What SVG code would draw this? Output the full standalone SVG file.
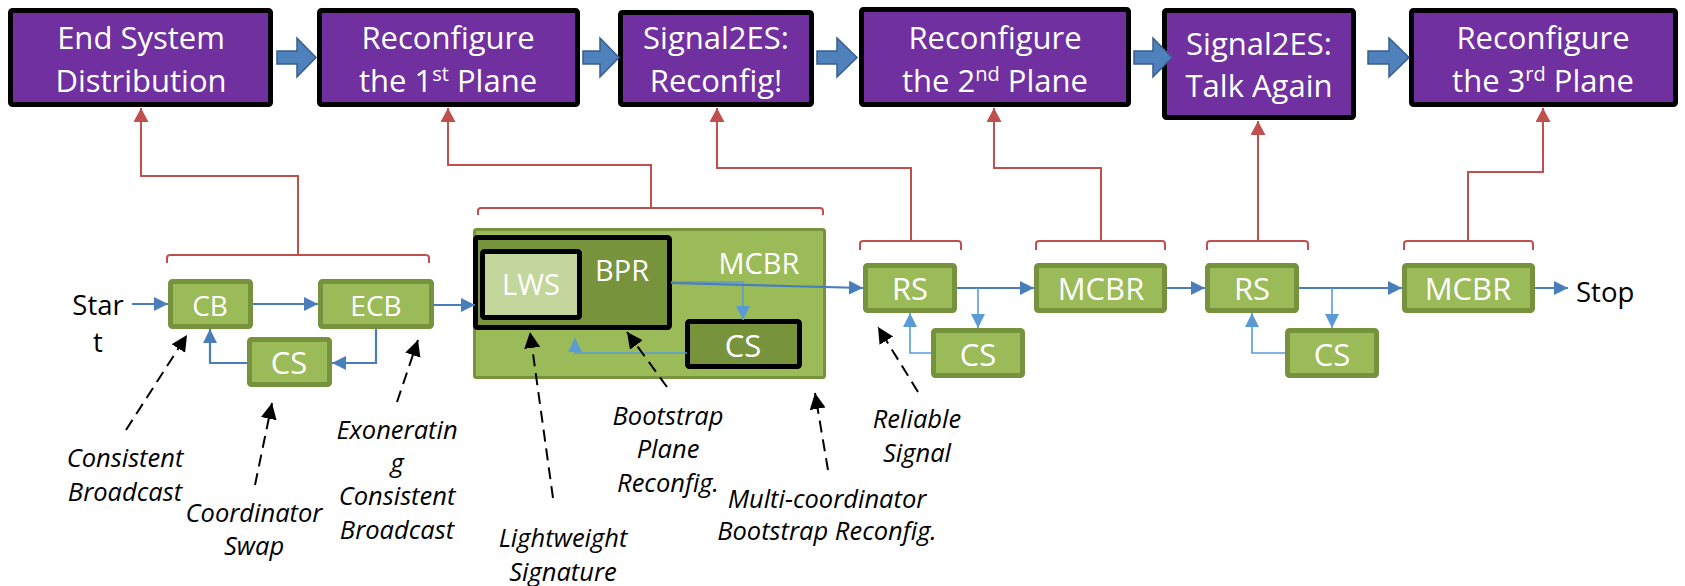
<svg xmlns="http://www.w3.org/2000/svg" width="1685" height="586" viewBox="0 0 1685 586">
<defs>
<style>
.top rect{fill:#7030A0;stroke:#000;stroke-width:5}
.tt{font-family:"Open Sans","Liberation Sans",sans-serif;font-size:31px;fill:#fff;text-anchor:middle}
.blk{fill:#4F81BD;stroke:#385D8A;stroke-width:1.5}
.g rect{fill:#9BBB59;stroke:#76923C;stroke-width:5}
.gl{font-family:"Open Sans","Liberation Sans",sans-serif;fill:#fff;text-anchor:middle}
.lab{font-family:"Open Sans","Liberation Sans",sans-serif;fill:#000;font-size:27.5px}
.ann{font-family:"Open Sans","Liberation Sans",sans-serif;fill:#000;font-size:25.5px;font-style:italic;text-anchor:middle}
.red{fill:none;stroke:#C0504D;stroke-width:2}
.bl{fill:none;stroke:#4A7EBB;stroke-width:2.2}
.bl2{fill:none;stroke:#5B9BD5;stroke-width:1.6}
.dash{fill:none;stroke:#000;stroke-width:2;stroke-dasharray:12 7}
</style>
<marker id="mr" markerUnits="userSpaceOnUse" markerWidth="16" markerHeight="16" refX="14" refY="7.5" orient="auto"><path d="M0,0 L14,7.5 L0,15 Z" fill="#C0504D"/></marker>
<marker id="mb" markerUnits="userSpaceOnUse" markerWidth="16" markerHeight="16" refX="14" refY="7" orient="auto"><path d="M0,0 L14,7 L0,14 Z" fill="#4A7EBB"/></marker>
<marker id="mb2" markerUnits="userSpaceOnUse" markerWidth="16" markerHeight="16" refX="14" refY="7" orient="auto"><path d="M0,0 L14,7 L0,14 Z" fill="#5B9BD5"/></marker>
<marker id="mk" markerUnits="userSpaceOnUse" markerWidth="18" markerHeight="18" refX="16" refY="8" orient="auto"><path d="M0,0 L16,8 L0,16 Z" fill="#000"/></marker>
</defs>

<g id="top1" class="top"><rect x="10.5" y="10.5" width="260" height="94" rx="2"/><text class="tt" x="141" y="49">End System</text><text class="tt" x="141" y="92">Distribution</text></g>
<g id="top2" class="top"><rect x="319.5" y="10.5" width="258" height="94" rx="2"/><text class="tt" x="448" y="49">Reconfigure</text><text class="tt" x="448" y="92">the 1<tspan dy="-11" font-size="20">st</tspan><tspan dy="11"> Plane</tspan></text></g>
<g id="top3" class="top"><rect x="620.5" y="12.5" width="191" height="92" rx="2"/><text class="tt" x="716" y="49">Signal2ES:</text><text class="tt" x="716" y="92">Reconfig!</text></g>
<g id="top4" class="top"><rect x="861.5" y="9.5" width="267" height="95" rx="2"/><text class="tt" x="995" y="49">Reconfigure</text><text class="tt" x="995" y="92">the 2<tspan dy="-11" font-size="20">nd</tspan><tspan dy="11"> Plane</tspan></text></g>
<g id="top5" class="top"><rect x="1164.5" y="10.5" width="189" height="107" rx="2"/><text class="tt" x="1259" y="55">Signal2ES:</text><text class="tt" x="1259" y="97">Talk Again</text></g>
<g id="top6" class="top"><rect x="1411.5" y="10.5" width="264" height="94" rx="2"/><text class="tt" x="1543" y="49">Reconfigure</text><text class="tt" x="1543" y="92">the 3<tspan dy="-11" font-size="20">rd</tspan><tspan dy="11"> Plane</tspan></text></g>

<g id="block-arrows">
<path class="blk" d="M277,51 H297 V38 L316,57.5 L297,77 V64 H277 Z"/>
<path class="blk" d="M583,51 H600 V38 L619,57.5 L600,77 V64 H583 Z"/>
<path class="blk" d="M817,51 H837 V38 L857,57.5 L837,77 V64 H817 Z"/>
<path class="blk" d="M1134,51 H1153 V38 L1172,57.5 L1153,77 V64 H1134 Z"/>
<path class="blk" d="M1368,51 H1389 V38 L1409,57.5 L1389,77 V64 H1368 Z"/>
</g>

<g id="mcbr-group">
<rect x="474.5" y="229.5" width="350" height="148" rx="2" fill="#9BBB59" stroke="#76923C" stroke-width="3"/>
<text class="gl" x="759" y="274" font-size="29">MCBR</text>
</g>
<g id="bpr"><rect x="475.5" y="237.5" width="194" height="90" fill="#77933C" stroke="#000" stroke-width="5" rx="2"/><text class="gl" x="622" y="281" font-size="29">BPR</text></g>
<g id="lws"><rect x="482.5" y="251.5" width="97" height="66" fill="#C3D69B" stroke="#000" stroke-width="5" rx="2"/><text class="gl" x="531" y="295" font-size="29">LWS</text></g>
<g id="cs-in"><rect x="687.5" y="321.5" width="112" height="45" fill="#77933C" stroke="#000" stroke-width="5" rx="2"/><text class="gl" x="743" y="357" font-size="31">CS</text></g>

<g id="cb" class="g"><rect x="170.5" y="281.5" width="80" height="45" rx="2"/><text class="gl" x="210" y="316" font-size="28">CB</text></g>
<g id="ecb" class="g"><rect x="320.5" y="281.5" width="111" height="45" rx="2"/><text class="gl" x="376" y="316" font-size="28">ECB</text></g>
<g id="cs1" class="g"><rect x="249.5" y="339.5" width="80" height="45" rx="2"/><text class="gl" x="289" y="374" font-size="31">CS</text></g>
<g id="rs1" class="g"><rect x="865.5" y="265.5" width="89" height="45" rx="2"/><text class="gl" x="910" y="300" font-size="31">RS</text></g>
<g id="cs2" class="g"><rect x="933.5" y="330.5" width="89" height="45" rx="2"/><text class="gl" x="978" y="366" font-size="31">CS</text></g>
<g id="mcbr1" class="g"><rect x="1036.5" y="265.5" width="128" height="45" rx="2"/><text class="gl" x="1101" y="300" font-size="31">MCBR</text></g>
<g id="rs2" class="g"><rect x="1207.5" y="265.5" width="89" height="45" rx="2"/><text class="gl" x="1252" y="300" font-size="31">RS</text></g>
<g id="cs3" class="g"><rect x="1287.5" y="330.5" width="89" height="45" rx="2"/><text class="gl" x="1332" y="366" font-size="31">CS</text></g>
<g id="mcbr2" class="g"><rect x="1404.5" y="265.5" width="128" height="45" rx="2"/><text class="gl" x="1468" y="300" font-size="31">MCBR</text></g>

<g id="start"><text class="lab" x="98" y="315" text-anchor="middle">Star</text><text class="lab" x="98" y="352" text-anchor="middle">t</text></g>
<g id="stop"><text class="lab" x="1576" y="302">Stop</text></g>

<g id="connectors">
<path class="red" d="M167,263 V258 Q167,255 170,255 H426 Q429,255 429,258 V263 M298,255 V176 H141 V108" marker-end="url(#mr)"/>
<path class="red" d="M478,215 V211 Q478,208 481,208 H820 Q823,208 823,211 V215 M651,208 V165 H448 V108" marker-end="url(#mr)"/>
<path class="red" d="M860,250 V244 Q860,241 863,241 H958 Q961,241 961,244 V250 M911,241 V168 H717 V108" marker-end="url(#mr)"/>
<path class="red" d="M1036,250 V244 Q1036,241 1039,241 H1162 Q1165,241 1165,244 V250 M1101,241 V168 H994 V108" marker-end="url(#mr)"/>
<path class="red" d="M1207,250 V244 Q1207,241 1210,241 H1305 Q1308,241 1308,244 V250 M1258,241 V121" marker-end="url(#mr)"/>
<path class="red" d="M1404,250 V244 Q1404,241 1407,241 H1530 Q1533,241 1533,244 V250 M1468,241 V172 H1543 V108" marker-end="url(#mr)"/>

<path class="bl" d="M132,304 H168" marker-end="url(#mb)"/>
<path class="bl" d="M253,304 H318" marker-end="url(#mb)"/>
<path class="bl" d="M434,305 H475" marker-end="url(#mb)"/>
<path class="bl" d="M376,329 V363 H332" marker-end="url(#mb)"/>
<path class="bl" d="M247,363 H210 V329" marker-end="url(#mb)"/>
<path class="bl2" d="M671,282 H743 V320" marker-end="url(#mb2)"/>
<path class="bl" d="M671,283 L863,288" marker-end="url(#mb)"/>
<path class="bl2" d="M687,353 H575 V338" marker-end="url(#mb2)"/>
<path class="bl" d="M957,288 H1034" marker-end="url(#mb)"/>
<path class="bl2" d="M978,288 V328" marker-end="url(#mb2)"/>
<path class="bl2" d="M931,353 H910 V313" marker-end="url(#mb2)"/>
<path class="bl" d="M1167,288 H1205" marker-end="url(#mb)"/>
<path class="bl" d="M1299,288 H1402" marker-end="url(#mb)"/>
<path class="bl2" d="M1332,288 V328" marker-end="url(#mb2)"/>
<path class="bl2" d="M1285,353 H1252 V313" marker-end="url(#mb2)"/>
<path class="bl" d="M1535,288 H1568" marker-end="url(#mb)"/>

<path class="dash" d="M126,430 L187,335" marker-end="url(#mk)"/>
<path class="dash" d="M255,485 L272,403" marker-end="url(#mk)"/>
<path class="dash" d="M397,402 L418,340" marker-end="url(#mk)"/>
<path class="dash" d="M553,498 L530,332" marker-end="url(#mk)"/>
<path class="dash" d="M667,387 L627,332" marker-end="url(#mk)"/>
<path class="dash" d="M828,470 L815,393" marker-end="url(#mk)"/>
<path class="dash" d="M918,392 L878,327" marker-end="url(#mk)"/>
</g>

<g id="annotations">
<text class="ann" x="125" y="467">Consistent</text><text class="ann" x="125" y="501">Broadcast</text>
<text class="ann" x="254" y="522">Coordinator</text><text class="ann" x="254" y="555">Swap</text>
<text class="ann" x="397" y="439">Exoneratin</text><text class="ann" x="397" y="472">g</text><text class="ann" x="397" y="505">Consistent</text><text class="ann" x="397" y="539">Broadcast</text>
<text class="ann" x="563" y="547">Lightweight</text><text class="ann" x="563" y="581">Signature</text>
<text class="ann" x="668" y="425">Bootstrap</text><text class="ann" x="668" y="458">Plane</text><text class="ann" x="668" y="492">Reconfig.</text>
<text class="ann" x="827" y="508">Multi-coordinator</text><text class="ann" x="827" y="540">Bootstrap Reconfig.</text>
<text class="ann" x="917" y="428">Reliable</text><text class="ann" x="917" y="462">Signal</text>
</g>
</svg>
